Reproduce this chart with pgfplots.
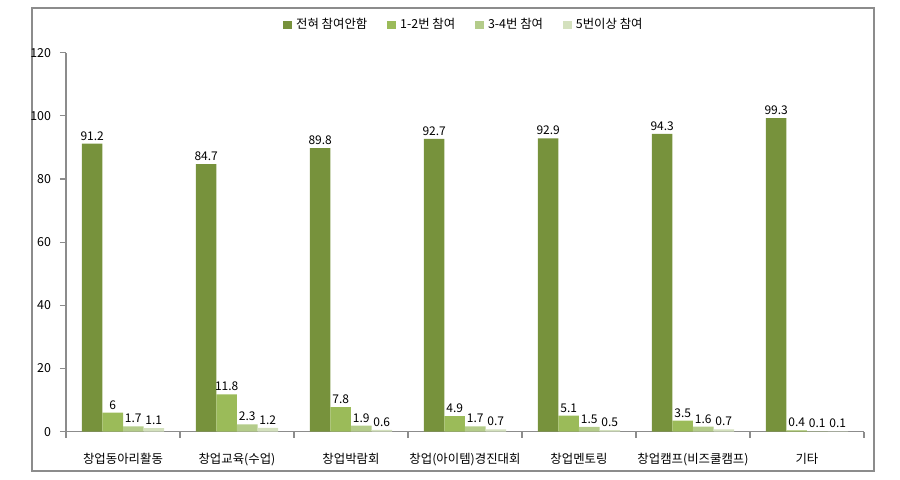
\documentclass[border=0pt]{standalone}
\usepackage{pgfplots}
\pgfplotsset{compat=1.18}
\usepackage{fontspec}
\setmainfont{Noto Sans CJK KR}
\definecolor{c1}{RGB}{119,146,60}
\definecolor{c2}{RGB}{155,187,89}
\definecolor{c3}{RGB}{180,204,138}
\definecolor{c4}{RGB}{212,225,190}
\definecolor{fr}{RGB}{140,140,140}
\begin{document}
\begin{tikzpicture}
\path[use as bounding box] (0,0) rectangle (450pt,240pt);
\draw[fr, line width=0.8pt] (16pt,4.5pt) rectangle (437pt,236pt);
\begin{axis}[
  at={(33pt,24.15pt)}, anchor=south west,
  scale only axis, width=399pt, height=189.5pt,
  xmin=-0.5, xmax=6.5, ymin=0, ymax=120,
  ytick={0,20,...,120},
  xtick={0,...,6},
  xticklabels={창업동아리활동,창업교육(수업),창업박람회,창업(아이템)경진대회,창업멘토링,창업캠프(비즈쿨캠프),기타},
  minor xtick={-0.5,0.5,...,6.5},
  axis x line=bottom, axis y line=left,
  axis line style={-, draw=fr, line width=0.8pt},
  tick style={draw=fr, line width=0.6pt},
  tick align=outside,
  major tick length=3pt, minor tick length=3pt,
  major x tick style={draw=none},
  font=\fontsize{6.2}{7.5}\selectfont,
  ticklabel style={font=\fontsize{6.2}{7.5}\selectfont},
  xticklabel style={yshift=-4pt},
  yticklabel style={xshift=-1pt},
  /pgf/number format/assume math mode=true,
  ybar, bar width=0.18,
  point meta=explicit symbolic,
  nodes near coords,
  nodes near coords style={font=\fontsize{6}{7}\selectfont, inner sep=1.5pt},
  every axis plot/.append style={draw=none},
  legend style={at={(0.5,1.073)}, anchor=center, draw=none, fill=none,
    legend columns=4, font=\fontsize{6.2}{7.5}\selectfont,
    /tikz/every even column/.append style={column sep=8pt}},
  legend image code/.code={\fill[#1] (0pt,-2.2pt) rectangle (4.4pt,2.2pt);},
]
\addplot[fill=c1, bar shift=-0.27] coordinates {(0,91.2)[91.2] (1,84.7)[84.7] (2,89.8)[89.8] (3,92.7)[92.7] (4,92.9)[92.9] (5,94.3)[94.3] (6,99.3)[99.3]};
\addplot[fill=c2, bar shift=-0.09] coordinates {(0,6)[6] (1,11.8)[11.8] (2,7.8)[7.8] (3,4.9)[4.9] (4,5.1)[5.1] (5,3.5)[3.5] (6,0.4)[0.4]};
\addplot[fill=c3, bar shift=0.09] coordinates {(0,1.7)[1.7] (1,2.3)[2.3] (2,1.9)[1.9] (3,1.7)[1.7] (4,1.5)[1.5] (5,1.6)[1.6] (6,0.1)[0.1]};
\addplot[fill=c4, bar shift=0.27] coordinates {(0,1.1)[1.1] (1,1.2)[1.2] (2,0.6)[0.6] (3,0.7)[0.7] (4,0.5)[0.5] (5,0.7)[0.7] (6,0.1)[0.1]};
\legend{전혀 참여안함,1-2번 참여,3-4번 참여,5번이상 참여}
\end{axis}
\end{tikzpicture}
\end{document}
